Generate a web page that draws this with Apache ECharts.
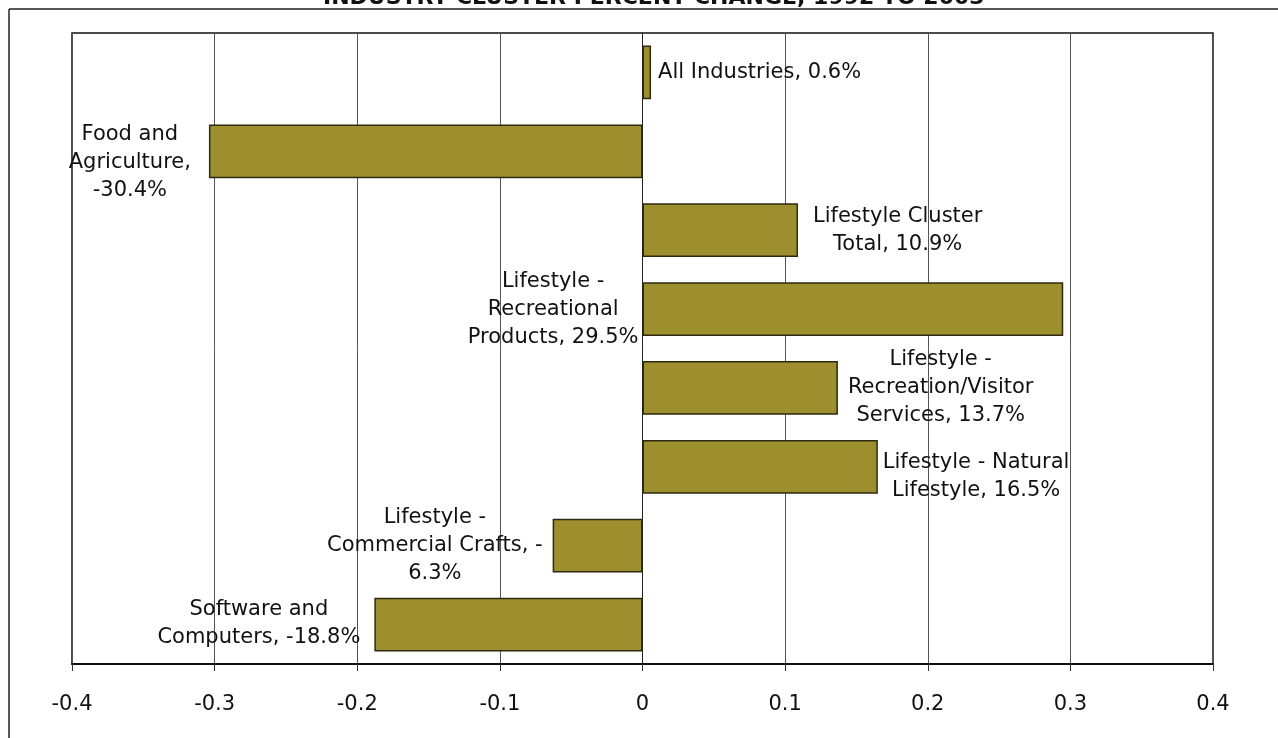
<!DOCTYPE html>
<html>
<head>
<meta charset="utf-8">
<script src="https://cdn.jsdelivr.net/npm/echarts@6/dist/echarts.min.js"></script>
<style>
html,body{margin:0;padding:0;background:#fff;}
#chart{width:1278px;height:738px;}
</style>
</head>
<body>
<div id="chart"></div>
<script>
var titleText = 'INDUSTRY CLUSTER PERCENT CHANGE, 1992 TO 2003';
var categories = ['All Industries', 'Food and Agriculture', 'Lifestyle Cluster Total',
  'Lifestyle - Recreational Products', 'Lifestyle - Recreation/Visitor Services',
  'Lifestyle - Natural Lifestyle', 'Lifestyle - Commercial Crafts', 'Software and Computers'];
var values = [0.006, -0.304, 0.109, 0.295, 0.137, 0.165, -0.063, -0.188];
var labelTexts = [
  'All Industries, 0.6%',
  'Food and\nAgriculture,\n-30.4%',
  'Lifestyle Cluster\nTotal, 10.9%',
  'Lifestyle -\nRecreational\nProducts, 29.5%',
  'Lifestyle -\nRecreation/Visitor\nServices, 13.7%',
  'Lifestyle - Natural\nLifestyle, 16.5%',
  'Lifestyle -\nCommercial Crafts, -\n6.3%',
  'Software and\nComputers, -18.8%'
];
var xTicks = ['-0.4', '-0.3', '-0.2', '-0.1', '0', '0.1', '0.2', '0.3', '0.4'];

var labelPos = ['right', 'left', 'right', 'left', 'right', 'right', 'left', 'left'];
var labelDist = [7, 18, 15, 4, 10, 5, 10, 14];
var labelOffY = [0, 11, 0, 0, 0, 10, 0, -1];

var font = '"DejaVu Sans", Verdana, sans-serif';
var labelFontSize = 21;

var mctx = document.createElement('canvas').getContext('2d');
mctx.font = labelFontSize + 'px ' + font;
function blockWidth(s) {
  return Math.max.apply(null, s.split('\n').map(function (l) { return mctx.measureText(l).width; }));
}

var chart = echarts.init(document.getElementById('chart'), null, {renderer: 'canvas'});

var data = values.map(function (v, i) {
  var w = blockWidth(labelTexts[i]);
  var dx = labelPos[i] === 'right' ? w / 2 : -w / 2;
  return {
    value: v,
    label: {
      show: true,
      position: labelPos[i],
      distance: labelDist[i],
      offset: [dx, labelOffY[i]],
      formatter: labelTexts[i],
      align: 'center',
      fontFamily: font,
      fontSize: labelFontSize,
      lineHeight: 28,
      color: '#111'
    }
  };
});

var option = {
  backgroundColor: '#fff',
  animation: false,
  title: {
    text: titleText,
    left: 318,
    top: -18,
    textStyle: {fontFamily: font, fontWeight: 'bold', fontSize: 22, color: '#111'}
  },
  grid: {
    left: 72, right: 65, top: 33, bottom: 74,
    show: true, borderColor: '#111', borderWidth: 1.5, backgroundColor: '#fff'
  },
  xAxis: {
    type: 'value',
    min: -0.4, max: 0.4, interval: 0.1,
    axisLine: {show: true, lineStyle: {color: '#111', width: 2}},
    axisTick: {show: true, length: 7, lineStyle: {color: '#333'}},
    splitLine: {show: true, lineStyle: {color: '#555', width: 1}},
    axisLabel: {
      margin: 30,
      fontFamily: font, fontSize: 21, color: '#111',
      formatter: function (v) {
        var idx = Math.round((v + 0.4) * 10);
        return xTicks[idx];
      }
    }
  },
  yAxis: {
    type: 'category',
    data: categories,
    inverse: true,
    axisLine: {show: true, onZero: true, lineStyle: {color: '#222', width: 1}},
    axisTick: {show: false},
    axisLabel: {show: false},
    splitLine: {show: false}
  },
  series: [{
    type: 'bar',
    data: data,
    barCategoryGap: '32%',
    itemStyle: {color: '#9d8e2e', borderColor: '#2e2a10', borderWidth: 1.5}
  }],
  graphic: [
    {type: 'line', shape: {x1: 9, y1: 9, x2: 1278, y2: 9}, style: {stroke: '#222', lineWidth: 1.5}},
    {type: 'line', shape: {x1: 9, y1: 9, x2: 9, y2: 738}, style: {stroke: '#222', lineWidth: 1.5}}
  ]
};
chart.setOption(option);
</script>
</body>
</html>
